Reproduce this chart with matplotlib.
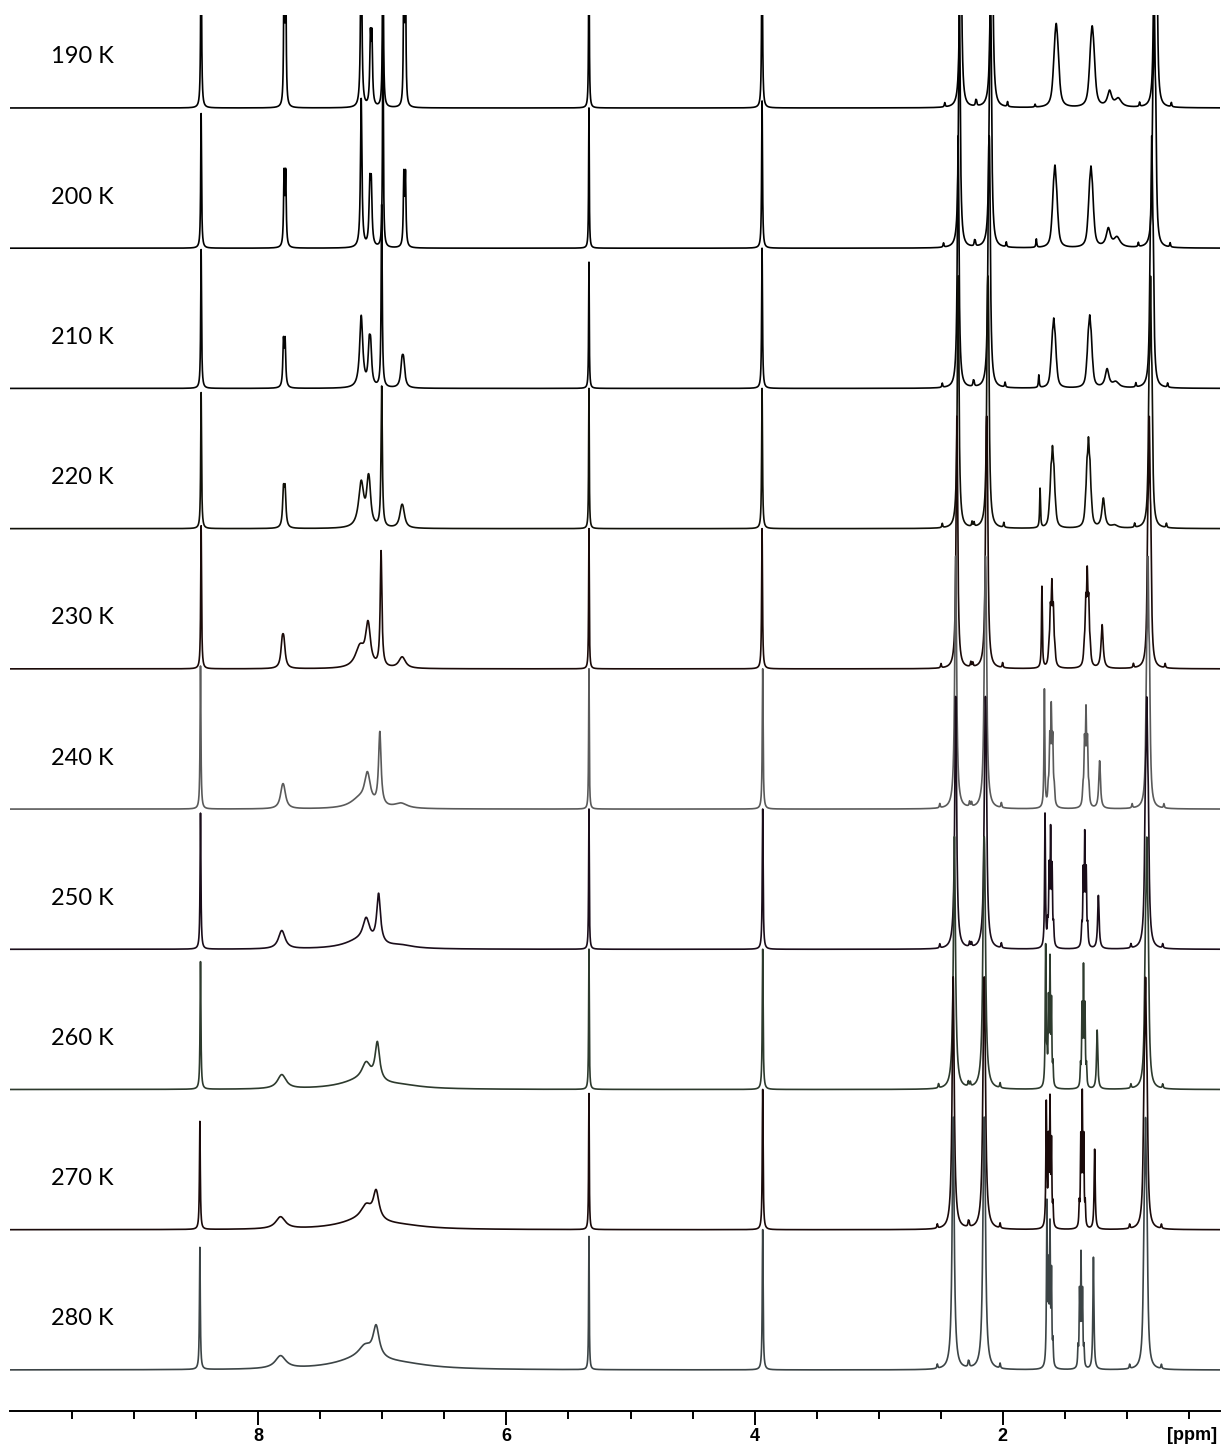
import numpy as np
import matplotlib.pyplot as plt
from matplotlib.transforms import blended_transform_factory

# Variable temperature 1H NMR stack, one trace per temperature (top = coldest)
temperatures = [190, 200, 210, 220, 230, 240, 250, 260, 270, 280]

# Every signal: shift (ppm), apparent height (in trace spacings), half width (ppm)
# one value per temperature, 190 K -> 280 K
s846_ppm = [8.46, 8.46, 8.46, 8.46, 8.46, 8.465, 8.465, 8.465, 8.47, 8.47]
s846_h = [1.4, 0.96, 0.99, 0.97, 1.02, 1.02, 0.97, 0.91, 0.77, 0.87]
s846_w = [0.004, 0.004, 0.004, 0.004, 0.004, 0.004, 0.004, 0.004, 0.004, 0.004]

s779_ppm = [7.785, 7.785, 7.79, 7.79, 7.80, 7.80, 7.81, 7.81, 7.82, 7.82]
s779_h = [1.2, 0.57, 0.37, 0.32, 0.25, 0.18, 0.13, 0.10, 0.085, 0.09]
s779_w = [0.004, 0.005, 0.006, 0.008, 0.013, 0.02, 0.03, 0.04, 0.045, 0.05]

s717_ppm = [7.17, 7.17, 7.17, 7.17, 7.18, 7.18, 7.18, 7.17, 7.17, 7.17]
s717_h = [1.4, 1.06, 0.51, 0.32, 0.15, 0.07, 0.06, 0.06, 0.06, 0.07]
s717_w = [0.006, 0.007, 0.015, 0.025, 0.045, 0.09, 0.15, 0.2, 0.22, 0.25]

s709_ppm = [7.09, 7.095, 7.10, 7.11, 7.115, 7.12, 7.13, 7.13, 7.13, 7.14]
s709_h = [0.56, 0.52, 0.36, 0.34, 0.29, 0.21, 0.16, 0.12, 0.10, 0.08]
s709_w = [0.006, 0.007, 0.01, 0.015, 0.02, 0.025, 0.03, 0.04, 0.05, 0.06]

s700_ppm = [6.995, 6.995, 7.005, 7.005, 7.01, 7.02, 7.03, 7.04, 7.05, 7.05]
s700_h = [1.6, 1.6, 1.3, 1.0, 0.82, 0.52, 0.35, 0.27, 0.2, 0.22]
s700_w = [0.004, 0.004, 0.005, 0.006, 0.008, 0.012, 0.018, 0.022, 0.028, 0.03]

s683_ppm = [6.82, 6.82, 6.835, 6.84, 6.84, 6.85, 6.85, 6.85, 6.85, 6.85]
s683_h = [1.2, 0.56, 0.24, 0.17, 0.08, 0.035, 0.02, 0.02, 0.02, 0.03]
s683_w = [0.004, 0.005, 0.012, 0.018, 0.03, 0.06, 0.12, 0.2, 0.25, 0.3]

solvent_ppm = [5.335, 5.335, 5.335, 5.335, 5.335, 5.335, 5.335, 5.335, 5.335, 5.335]
solvent_h = [1.4, 1.0, 0.9, 1.0, 1.0, 1.0, 1.0, 1.0, 0.97, 0.95]
solvent_w = [0.003, 0.003, 0.003, 0.003, 0.003, 0.003, 0.003, 0.003, 0.003, 0.003]

ome_ppm = [3.94, 3.94, 3.94, 3.94, 3.94, 3.935, 3.935, 3.935, 3.935, 3.935]
ome_h = [1.4, 1.05, 1.0, 1.0, 1.0, 1.0, 1.0, 1.0, 1.0, 1.0]
ome_w = [0.004, 0.004, 0.004, 0.004, 0.004, 0.004, 0.004, 0.004, 0.004, 0.004]

s236_ppm = [2.34, 2.35, 2.36, 2.36, 2.37, 2.38, 2.38, 2.39, 2.40, 2.40]
s236_h = [1.8, 1.8, 1.8, 1.8, 1.8, 1.8, 1.8, 1.8, 1.8, 1.8]
s236_w = [0.008, 0.008, 0.008, 0.008, 0.008, 0.009, 0.009, 0.01, 0.01, 0.01]

s211_ppm = [2.09, 2.10, 2.11, 2.12, 2.13, 2.14, 2.14, 2.15, 2.15, 2.15]
s211_h = [1.8, 1.8, 1.8, 1.8, 1.8, 1.8, 1.8, 1.8, 1.8, 1.8]
s211_w = [0.008, 0.008, 0.008, 0.008, 0.008, 0.009, 0.009, 0.01, 0.01, 0.01]

s170_ppm = [1.74, 1.73, 1.71, 1.70, 1.685, 1.665, 1.66, 1.655, 1.65, 1.645]
s170_h = [0.02, 0.06, 0.09, 0.28, 0.58, 0.84, 0.95, 1.0, 0.85, 1.0]
s170_w = [0.004, 0.004, 0.004, 0.004, 0.004, 0.004, 0.004, 0.004, 0.004, 0.004]

s160_ppm = [1.57, 1.58, 1.59, 1.60, 1.605, 1.61, 1.615, 1.62, 1.62, 1.62]
s160_h = [0.6, 0.59, 0.5, 0.59, 0.64, 0.76, 0.88, 0.95, 0.95, 1.05]
s160_w = [0.012, 0.01, 0.009, 0.008, 0.006, 0.005, 0.004, 0.0035, 0.0035, 0.0035]

s130_ppm = [1.28, 1.29, 1.30, 1.31, 1.32, 1.33, 1.34, 1.35, 1.36, 1.37]
s130_h = [0.58, 0.58, 0.52, 0.65, 0.73, 0.74, 0.85, 0.9, 1.0, 0.85]
s130_w = [0.012, 0.01, 0.009, 0.008, 0.006, 0.005, 0.004, 0.0035, 0.0035, 0.0035]

s120_ppm = [1.14, 1.15, 1.16, 1.19, 1.20, 1.22, 1.23, 1.24, 1.26, 1.27]
s120_h = [0.11, 0.13, 0.13, 0.21, 0.31, 0.34, 0.38, 0.42, 0.57, 0.80]
s120_w = [0.02, 0.02, 0.018, 0.014, 0.01, 0.008, 0.007, 0.006, 0.005, 0.005]

s107_ppm = [1.07, 1.08, 1.09, 1.10, 1.10, 1.10, 1.10, 1.10, 1.10, 1.10]
s107_h = [0.06, 0.07, 0.04, 0.02, 0.0, 0.0, 0.0, 0.0, 0.0, 0.0]
s107_w = [0.03, 0.03, 0.03, 0.03, 0.03, 0.03, 0.03, 0.03, 0.03, 0.03]

s080_ppm = [0.77, 0.78, 0.80, 0.81, 0.82, 0.83, 0.84, 0.84, 0.85, 0.85]
s080_h = [1.8, 1.8, 1.8, 1.8, 1.8, 1.8, 1.8, 1.8, 1.8, 1.8]
s080_w = [0.007, 0.007, 0.007, 0.007, 0.007, 0.007, 0.008, 0.008, 0.008, 0.008]

# Multiplet patterns: offsets in units of J and relative intensities
SINGLET = ([0.0], [1.0])
DOUBLET = ([-0.5, 0.5], [1.0, 1.0])
TRIPLET = ([-1.0, 0.0, 1.0], [1.0, 2.0, 1.0])
QUINTET = ([-2.0, -1.0, 0.0, 1.0, 2.0], [1.0, 4.0, 6.0, 4.0, 1.0])

# (shifts, heights, widths, pattern, J in ppm, 13C satellite height)
signals = [
    (s846_ppm, s846_h, s846_w, SINGLET, 0.0, 0.0),
    (s779_ppm, s779_h, s779_w, DOUBLET, 0.013, 0.0),
    (s717_ppm, s717_h, s717_w, SINGLET, 0.0, 0.0),
    (s709_ppm, s709_h, s709_w, DOUBLET, 0.012, 0.0),
    (s700_ppm, s700_h, s700_w, SINGLET, 0.0, 0.0),
    (s683_ppm, s683_h, s683_w, DOUBLET, 0.013, 0.0),
    (solvent_ppm, solvent_h, solvent_w, SINGLET, 0.0, 0.0),
    (ome_ppm, ome_h, ome_w, SINGLET, 0.0, 0.0),
    (s236_ppm, s236_h, s236_w, SINGLET, 0.0, 0.03),
    (s211_ppm, s211_h, s211_w, DOUBLET, 0.008, 0.035),
    (s170_ppm, s170_h, s170_w, SINGLET, 0.0, 0.0),
    (s160_ppm, s160_h, s160_w, QUINTET, 0.012, 0.0),
    (s130_ppm, s130_h, s130_w, QUINTET, 0.012, 0.0),
    (s120_ppm, s120_h, s120_w, SINGLET, 0.0, 0.0),
    (s107_ppm, s107_h, s107_w, SINGLET, 0.0, 0.0),
    (s080_ppm, s080_h, s080_w, TRIPLET, 0.012, 0.03),
]

trace_colors = ["#000000", "#000000", "#050505", "#101008", "#1a0a08",
                "#5a5a5a", "#1a0d1a", "#2d3a2d", "#1a0a0a", "#3c4446"]


def lorentz(x, center, width):
    """Unit height Lorentzian line."""
    return width ** 2 / ((x - center) ** 2 + width ** 2)


def spectrum(x, idx):
    """Sum of all signals for the trace at temperature index idx."""
    y = np.zeros_like(x)
    for shifts, heights, widths, pattern, j, sat in signals:
        c, h, w = shifts[idx], heights[idx], widths[idx]
        if h <= 0:
            continue
        shape = np.zeros_like(x)
        for off, rel in zip(*pattern):
            shape += rel * lorentz(x, c + off * j, w)
        shape = h * shape / shape.max()
        if sat > 0:
            # small 13C satellites either side of the strong singlets
            shape += sat * (lorentz(x, c - 0.128, 0.004) + lorentz(x, c + 0.128, 0.004))
        y += shape
    return y


ppm = np.linspace(10.0, 0.25, 24000)

fig = plt.figure(figsize=(12.24, 14.46), dpi=100)
ax = fig.add_axes([10 / 1224, 35 / 1446, 1210 / 1224, 1396 / 1446])

n = len(temperatures)
label_tf = blended_transform_factory(ax.transAxes, ax.transData)
for i, temp in enumerate(temperatures):
    base = n - 1 - i
    ax.plot(ppm, base + spectrum(ppm, i), color=trace_colors[i], lw=1.2)
    ax.text(0.034, base + 0.364, f"{temp} K", transform=label_tf,
            fontsize=17, family=["Lato", "DejaVu Sans"], va="center", ha="left")

ax.set_xlim(10.0, 0.25)
ax.set_ylim(-0.2924, 9.663)

# Axis decoration like a Topspin plot: bottom scale only
for side in ["left", "right", "top"]:
    ax.spines[side].set_visible(False)
ax.spines["bottom"].set_linewidth(1.4)
ax.set_yticks([])
ax.set_xticks([8, 6, 4, 2])
ax.set_xticklabels(["8", "6", "4", "2"], fontweight="bold",
                   family="Liberation Sans", fontsize=13)
ax.set_xticks(np.arange(0.5, 10.0, 0.5), minor=True)
ax.tick_params(axis="x", which="major", length=10, width=1.4, pad=2)
ax.tick_params(axis="x", which="minor", length=6, width=1.4)
ax.text(0.998, -0.0172, "[ppm]", transform=ax.transAxes, ha="right", va="center",
        fontweight="bold", family="Liberation Sans", fontsize=13)

fig.savefig("out.png", dpi=100)
